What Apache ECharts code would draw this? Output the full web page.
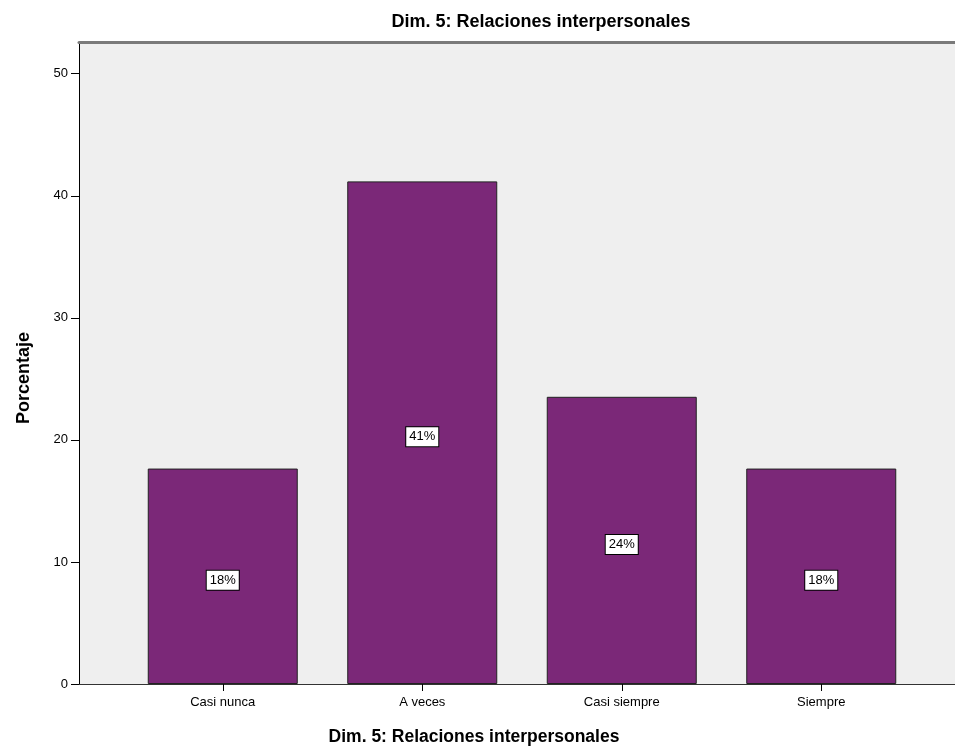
<!DOCTYPE html>
<html>
<head>
<meta charset="utf-8">
<script src="https://cdn.jsdelivr.net/npm/echarts@6/dist/echarts.min.js"></script>
<style>
  html, body { margin: 0; padding: 0; background: #fff; }
  #chart { width: 955px; height: 756px; }
</style>
</head>
<body>
<div id="chart"></div>
<script>
  // datos (porcentajes)
  var categorias = ['Casi nunca', 'A veces', 'Casi siempre', 'Siempre'];
  var porcentajes = [17.65, 41.18, 23.53, 17.65];
  var yTicks = [0, 10, 20, 30, 40, 50];

  var titulo = 'Dim. 5: Relaciones interpersonales';
  var yMax = 52.6;

  var myChart = echarts.init(document.getElementById('chart'));
  myChart.setOption({
    animation: false,
    textStyle: { fontFamily: 'Liberation Sans, Arial, sans-serif' },
    title: {
      text: titulo,
      left: 536,
      top: 8,
      textAlign: 'center',
      textStyle: { fontSize: 18, fontWeight: 'bold', color: '#000' }
    },
    grid: [
      // fondo gris y eje Y
      { left: 79, right: 0, top: 42, bottom: 72, show: true, backgroundColor: '#efefef', borderWidth: 0 },
      // barras
      { left: 123, width: 798, top: 42, bottom: 72 }
    ],
    xAxis: [
      {
        gridIndex: 0, type: 'value', min: 0, max: 1,
        axisLine: { show: true, onZero: false, lineStyle: { color: '#333', width: 1 } },
        axisTick: { show: false }, axisLabel: { show: false }, splitLine: { show: false }
      },
      {
        gridIndex: 0, type: 'value', min: 0, max: 1, position: 'top',
        axisLine: { show: true, onZero: false, lineStyle: { color: '#7a7a7a', width: 3 } },
        axisTick: { show: false }, axisLabel: { show: false }, splitLine: { show: false }
      },
      {
        gridIndex: 1, type: 'category', data: categorias,
        axisLine: { show: false },
        axisTick: { show: true, alignWithLabel: true, length: 7, lineStyle: { color: '#000' } },
        axisLabel: { color: '#000', fontSize: 13, margin: 12 },
        name: titulo,
        nameLocation: 'middle',
        nameGap: 44,
        nameTextStyle: { fontSize: 17.5, fontWeight: 'bold', color: '#000', padding: [0, 0, 0, -96] }
      }
    ],
    yAxis: [
      {
        gridIndex: 0, type: 'value', min: 0, max: yMax, interval: 10,
        axisLine: { show: true, lineStyle: { color: '#000', width: 1 } },
        axisTick: { show: true, length: 8, customValues: yTicks, lineStyle: { color: '#000' } },
        axisLabel: { color: '#000', fontSize: 13, margin: 11, customValues: yTicks },
        splitLine: { show: false },
        name: 'Porcentaje',
        nameLocation: 'middle',
        nameGap: 46,
        nameTextStyle: { fontSize: 18, fontWeight: 'bold', color: '#000', padding: [0, 30, 0, 0] }
      },
      {
        gridIndex: 1, type: 'value', min: 0, max: yMax, show: false
      }
    ],
    series: [
      {
        type: 'bar',
        xAxisIndex: 2,
        yAxisIndex: 1,
        data: porcentajes,
        barWidth: 150,
        itemStyle: { color: '#7b2878', borderColor: '#222', borderWidth: 1 },
        label: {
          show: true,
          position: 'inside',
          offset: [0, 4],
          color: '#000',
          fontSize: 13,
          backgroundColor: '#fff',
          borderColor: '#000',
          borderWidth: 1,
          padding: [4, 3, 2, 3],
          formatter: function (p) { return Math.round(p.value) + '%'; }
        }
      }
    ]
  });
</script>
</body>
</html>
